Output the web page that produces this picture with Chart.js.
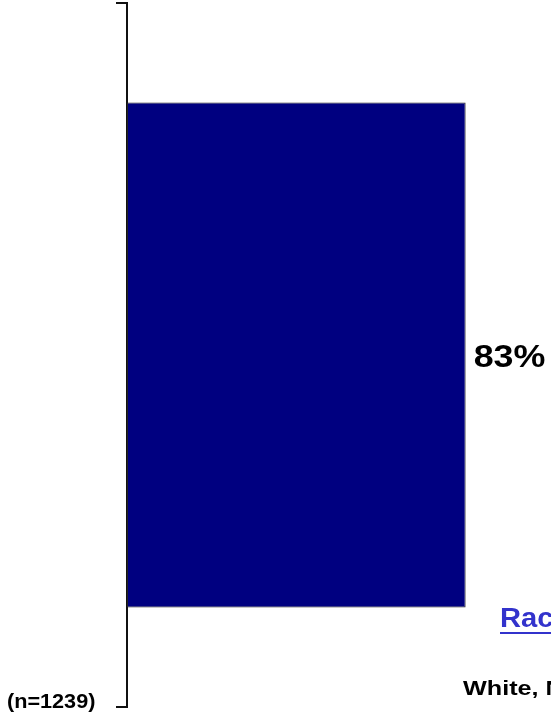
<!DOCTYPE html>
<html>
<head>
<meta charset="utf-8">
<script src="https://cdn.jsdelivr.net/npm/chart.js@4/dist/chart.umd.min.js"></script>
<style>
  html, body { margin: 0; padding: 0; background: #fff; overflow: hidden; }
  #wrap { width: 551px; height: 715px; }
</style>
</head>
<body>
<div id="wrap"><canvas id="chart" width="551" height="715"></canvas></div>
<script>
// ─── DATA ─────────────────────────────────────────────
const categories = ['White, Non-Hispanic'];
const values = [83];
const sampleSize = '(n=1239)';
const legendTitle = 'Race/Ethnicity';

const FONT = '"Liberation Sans", Arial, Helvetica, sans-serif';

// draw text stretched horizontally like the original export
function stretchText(ctx, text, x, y, size, sx, color) {
  ctx.save();
  ctx.font = `bold ${size}px ${FONT}`;
  ctx.fillStyle = color;
  ctx.textBaseline = 'alphabetic';
  ctx.textAlign = 'left';
  ctx.translate(x, y);
  ctx.scale(sx, 1);
  ctx.fillText(text, 0, 0);
  const w = ctx.measureText(text).width * sx;
  ctx.restore();
  return w;
}

const labels = {
  id: 'labels',
  afterDatasetsDraw(chart) {
    const ctx = chart.ctx;
    const meta = chart.getDatasetMeta(0);
    meta.data.forEach((bar, i) => {
      stretchText(ctx, values[i] + '%', bar.x + 8, bar.y + 12, 32, 1.12, '#000');
    });

    stretchText(ctx, sampleSize, 7, 708, 21, 1.03, '#000');

    const w = stretchText(ctx, legendTitle, 500, 627, 27, 1.08, '#3333cc');
    ctx.save();
    ctx.fillStyle = '#3333cc';
    ctx.fillRect(500, 632, w, 2);
    ctx.restore();

    stretchText(ctx, categories[0], 463, 695, 21, 1.2, '#000');
  }
};

new Chart(document.getElementById('chart'), {
  type: 'bar',
  data: {
    labels: categories,
    datasets: [{
      data: values,
      backgroundColor: '#000080',
      borderColor: '#222',
      borderWidth: 1,
      borderSkipped: false,
      barPercentage: 0.717,
      categoryPercentage: 1,
    }]
  },
  options: {
    indexAxis: 'y',
    responsive: false,
    animation: false,
    layout: { padding: { left: 116, right: 16, top: 3, bottom: 8 } },
    plugins: { legend: { display: false }, tooltip: { enabled: false } },
    scales: {
      x: { display: false, min: 0, max: 100 },
      y: {
        afterFit: s => { s.width = 11; },
        ticks: { display: false },
        grid: {
          offset: true,
          drawOnChartArea: false,
          drawTicks: true,
          tickLength: 11,
          color: '#111',
          lineWidth: 2,
        },
        border: { display: true, color: '#111', width: 2 },
      }
    }
  },
  plugins: [labels]
});
</script>
</body>
</html>
